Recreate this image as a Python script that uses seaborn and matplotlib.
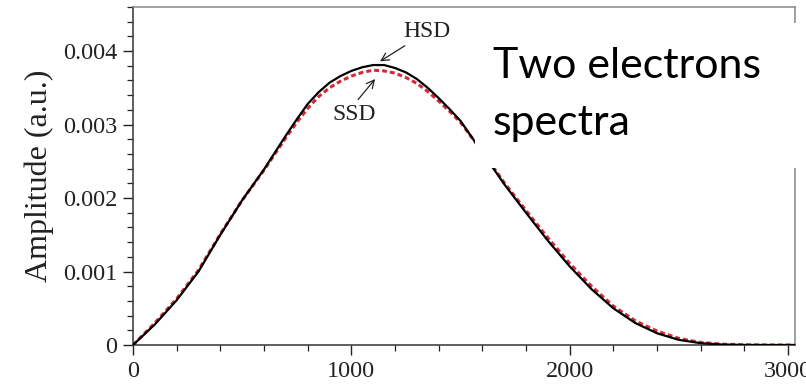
import numpy as np
import pandas as pd
import matplotlib
matplotlib.use("Agg")
import matplotlib.pyplot as plt
from matplotlib.patches import Rectangle
from matplotlib.ticker import MultipleLocator
import seaborn as sns

energy = [0, 100, 200, 300, 400, 500, 600, 650, 700, 750, 800, 850, 900, 950, 1000,
          1050, 1100, 1150, 1200, 1250, 1300, 1350, 1400, 1450, 1500, 1600, 1700,
          1800, 1900, 2000, 2100, 2200, 2300, 2400, 2500, 2600, 2700, 2800, 2900,
          3000, 3032]
hsd = [0, 0.28, 0.61, 1.00, 1.50, 1.97, 2.39, 2.62, 2.85, 3.07, 3.28, 3.44, 3.57,
       3.66, 3.73, 3.78, 3.81, 3.81, 3.77, 3.71, 3.62, 3.50, 3.36, 3.21, 3.05,
       2.62, 2.19, 1.80, 1.42, 1.07, 0.76, 0.50, 0.30, 0.16, 0.07, 0.025, 0.006,
       0.001, 0, 0, 0]
ssd = [0, 0.30, 0.63, 1.02, 1.51, 1.97, 2.38, 2.60, 2.82, 3.03, 3.22, 3.38, 3.50,
       3.59, 3.66, 3.71, 3.74, 3.73, 3.70, 3.64, 3.56, 3.45, 3.32, 3.18, 3.03,
       2.63, 2.21, 1.83, 1.46, 1.11, 0.80, 0.53, 0.33, 0.19, 0.09, 0.035, 0.011,
       0.003, 0.001, 0, 0]
series_names = ["HSD", "SSD"]
y_ticks = [0, 0.001, 0.002, 0.003, 0.004]
y_tick_labels = ["0", "0.001", "0.002", "0.003", "0.004"]
x_ticks = [0, 1000, 2000, 3000]
x_tick_labels = ["0", "1000", "2000", "3000"]

df = pd.DataFrame({
    "Energy": energy * 2,
    "Amplitude": [v * 1e-3 for v in hsd] + [v * 1e-3 for v in ssd],
    "Spectrum": [series_names[0]] * len(energy) + [series_names[1]] * len(energy),
})

sns.set_style("ticks")
plt.rcParams["font.family"] = ["Liberation Serif", "DejaVu Serif"]

fig = plt.figure(figsize=(8.06, 3.84), dpi=100)
ax = fig.add_axes([133 / 806, 1 - 345 / 384, (795 - 133) / 806, (345 - 7) / 384])

sns.lineplot(data=df[df.Spectrum == "HSD"], x="Energy", y="Amplitude", ax=ax,
             color="black", lw=1.6, legend=False, zorder=3)
sns.lineplot(data=df[df.Spectrum == "SSD"], x="Energy", y="Amplitude", ax=ax,
             color="#d42a36", lw=2.2, legend=False, zorder=2)
ax.lines[1].set_dashes([1.6, 1.0])

ax.set_xlim(0, 3032)
ax.set_ylim(0, 0.0046)
ax.set_xticks(x_ticks)
ax.set_xticklabels(x_tick_labels)
ax.set_yticks(y_ticks)
ax.set_yticklabels(y_tick_labels)
ax.xaxis.set_minor_locator(MultipleLocator(200))
ax.yaxis.set_minor_locator(MultipleLocator(0.0002))
ax.tick_params(which="major", direction="out", length=7, width=1.0, labelsize=17.5,
               colors="#222222", pad=4.5)
ax.tick_params(which="minor", direction="out", length=4, width=0.9, colors="#222222")
ax.tick_params(top=False, right=False, which="both")
ax.set_xlabel("")
ax.set_ylabel("Amplitude (a.u.)", fontsize=23, color="#222222", labelpad=6)
for side, sp in ax.spines.items():
    sp.set_visible(True)
    sp.set_linewidth(1.1)
    sp.set_color("#333333" if side in ("left", "bottom") else "#888888")

ax.annotate("HSD", xy=(1131, 0.00386), xytext=(1237, 0.00426),
            fontsize=17, va="center", ha="left", color="#222222",
            arrowprops=dict(arrowstyle="->", color="#222222", lw=0.9,
                            shrinkA=0, shrinkB=0, mutation_scale=14))
ax.annotate("", xy=(1109, 0.00362), xytext=(1031, 0.00334),
            arrowprops=dict(arrowstyle="->", color="#222222", lw=0.9,
                            shrinkA=0, shrinkB=0, mutation_scale=14))
ax.text(1013, 0.00314, "SSD", fontsize=17, va="center", ha="center", color="#222222")

fig.add_artist(Rectangle((475 / 806, 1 - 168 / 384), 1.0, (168 - 23) / 384,
                         transform=fig.transFigure, facecolor="white",
                         edgecolor="none", zorder=10))
fig.text(493 / 806, 1 - 78 / 384, "Two electrons", fontsize=31, family="Lato",
         va="baseline", ha="left", color="black", zorder=11)
fig.text(493 / 806, 1 - 135 / 384, "spectra", fontsize=31, family="Lato",
         va="baseline", ha="left", color="black", zorder=11)

fig.savefig("out.png", dpi=100)
